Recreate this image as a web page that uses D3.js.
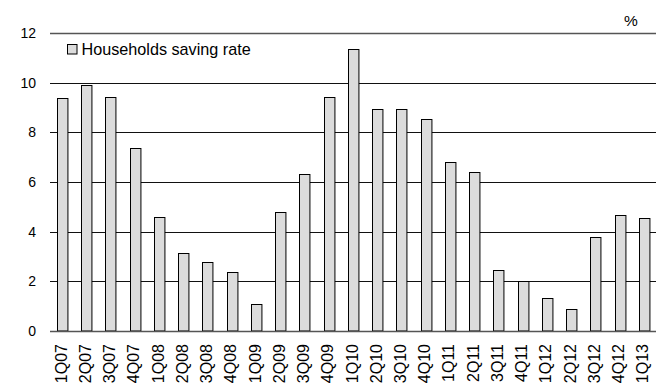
<!DOCTYPE html>
<html>
<head>
<meta charset="utf-8">
<script src="https://cdn.jsdelivr.net/npm/d3@7"></script>
<style>
  html, body { margin: 0; padding: 0; background: #fff; }
  svg { display: block; font-family: "Liberation Sans", Arial, sans-serif; }
</style>
</head>
<body>
<svg id="chart" width="659" height="383"></svg>
<script>
// Quarterly households saving rate, %
const quarters = ["1Q07","2Q07","3Q07","4Q07","1Q08","2Q08","3Q08","4Q08",
                  "1Q09","2Q09","3Q09","4Q09","1Q10","2Q10","3Q10","4Q10",
                  "1Q11","2Q11","3Q11","4Q11","1Q12","2Q12","3Q12","4Q12","1Q13"];
const savingRate = [9.37, 9.9, 9.41, 7.38, 4.6, 3.13, 2.77, 2.39,
                    1.07, 4.8, 6.33, 9.42, 11.37, 8.95, 8.95, 8.55,
                    6.82, 6.42, 2.46, 2.01, 1.34, 0.9, 3.8, 4.68, 4.55];
const yTicks = [0, 2, 4, 6, 8, 10, 12];
const seriesName = "Households saving rate";
const unitLabel = "%";

const svg = d3.select("#chart");
const margin = { left: 50, right: 3, top: 33, bottom: 52 };
const W = 659, H = 383;
const FONT = "Liberation Sans, Arial, sans-serif";

const x = d3.scaleBand()
  .domain(quarters)
  .range([margin.left, W - margin.right])
  .paddingInner(0.57)
  .paddingOuter(0.28);

const y = d3.scaleLinear()
  .domain([0, 12])
  .range([H - margin.bottom, margin.top]);

// Horizontal gridlines
svg.append("g")
  .selectAll("line")
  .data(yTicks.filter(t => t !== 0 && t !== 12))
  .join("line")
  .attr("x1", margin.left)
  .attr("x2", W - margin.right)
  .attr("y1", d => Math.round(y(d)) + 0.5)
  .attr("y2", d => Math.round(y(d)) + 0.5)
  .attr("stroke", "#111")
  .attr("stroke-width", 1);

// Top frame line at 12
svg.append("line")
  .attr("x1", margin.left).attr("x2", W - margin.right)
  .attr("y1", Math.round(y(12)) + 0.5).attr("y2", Math.round(y(12)) + 0.5)
  .attr("stroke", "#555").attr("stroke-width", 1.6);

// Y axis tick labels
const yAxis = d3.axisLeft(y).tickValues(yTicks).tickSize(0).tickPadding(14);
const gy = svg.append("g")
  .attr("transform", `translate(${margin.left},0)`)
  .call(yAxis);
gy.select(".domain").remove();
gy.selectAll("text")
  .attr("font-size", 14)
  .attr("fill", "#000")
  .attr("font-family", FONT);

// Bars
svg.append("g")
  .selectAll("rect")
  .data(quarters.map((q, i) => ({ q, v: savingRate[i] })))
  .join("rect")
  .attr("x", d => Math.round(x(d.q)) + 0.5)
  .attr("y", d => Math.round(y(d.v)) + 0.5)
  .attr("width", x.bandwidth())
  .attr("height", d => y(0) - Math.round(y(d.v)) - 0.5)
  .attr("fill", "#dcdcdc")
  .attr("stroke", "#000")
  .attr("stroke-width", 1);

// X axis baseline and rotated category labels
const xAxis = d3.axisBottom(x).tickSize(0).tickPadding(0);
const gx = svg.append("g")
  .attr("transform", `translate(0,${y(0)})`)
  .call(xAxis);
gx.select(".domain")
  .attr("d", `M${margin.left},0.5H${W - margin.right}`)
  .attr("stroke", "#555")
  .attr("stroke-width", 1.6);
gx.selectAll(".tick text")
  .attr("font-size", 16)
  .attr("fill", "#000")
  .attr("font-family", FONT)
  .attr("text-anchor", "end")
  .attr("dy", null)
  .attr("y", 0)
  .attr("transform", "translate(4.5,13) rotate(-90)");

// Legend
const legend = svg.append("g").attr("transform", "translate(67.5,44.5)");
legend.append("rect")
  .attr("width", 9.5).attr("height", 9.5)
  .attr("fill", "#dcdcdc").attr("stroke", "#000");
legend.append("text")
  .attr("x", 14).attr("y", 10.8)
  .attr("font-size", 16.2)
  .attr("fill", "#000")
  .attr("font-family", FONT)
  .text(seriesName);

// Unit label
svg.append("text")
  .attr("x", 631).attr("y", 25.5)
  .attr("text-anchor", "middle")
  .attr("font-size", 15.5)
  .attr("fill", "#000")
  .attr("font-family", FONT)
  .text(unitLabel);
</script>
</body>
</html>
